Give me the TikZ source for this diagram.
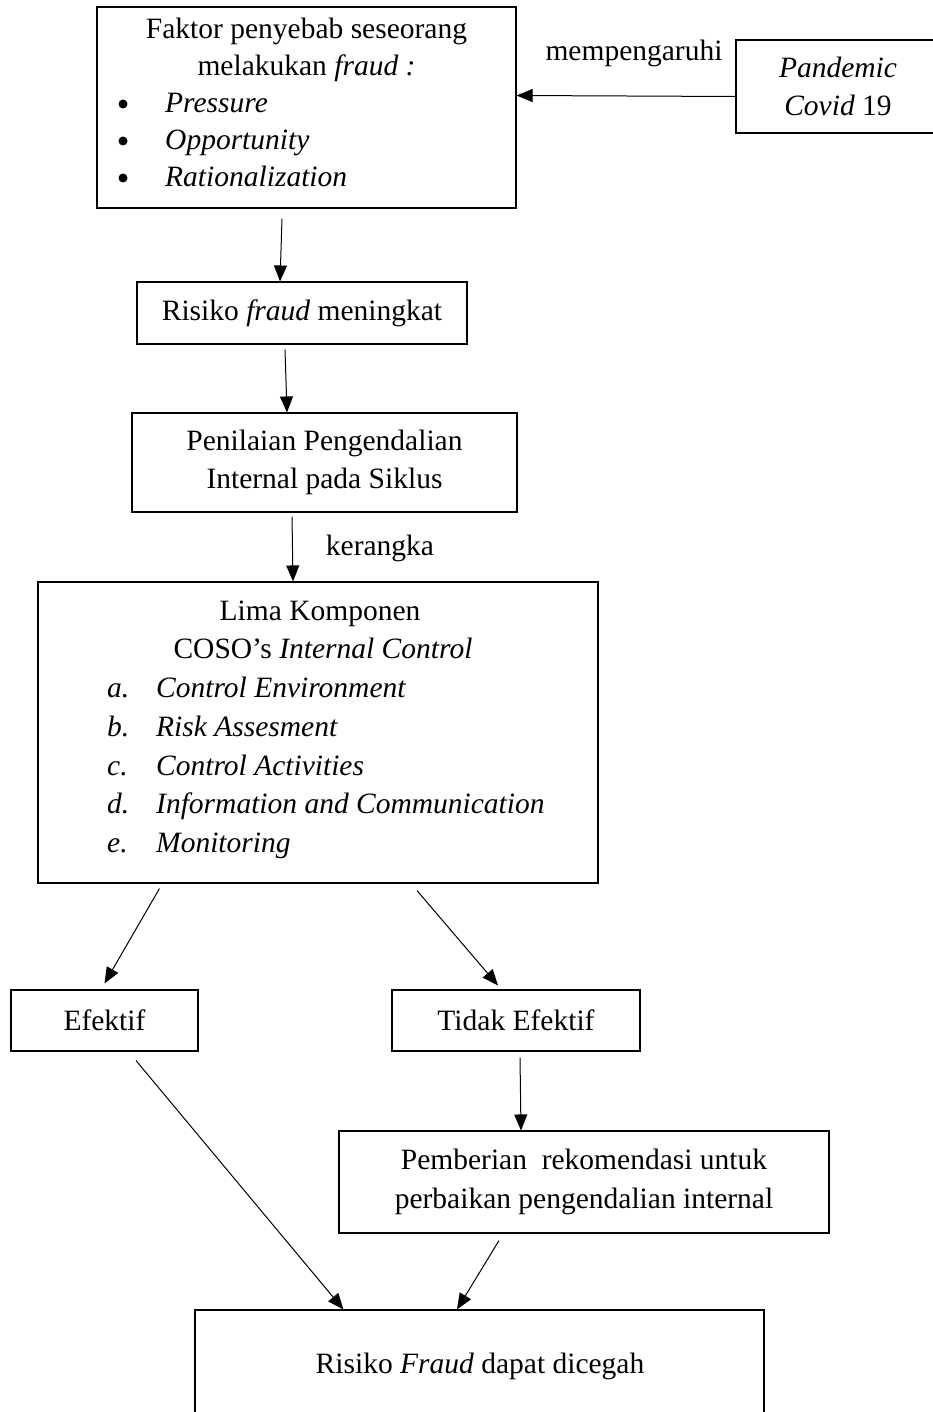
\documentclass[tikz,border=0pt]{standalone}
\usepackage{fontspec}
\setmainfont{Liberation Serif}
\usetikzlibrary{arrows.meta,positioning,calc}

\begin{document}
\begin{tikzpicture}[x=1pt,y=-1pt,>={Triangle[length=16pt,width=13pt]},
  every node/.style={font=\fontsize{29.5}{38.5}\selectfont,inner sep=0pt},
  box/.style={draw,line width=1.1pt,align=center},
  txt/.style={anchor=base},
  item/.style={anchor=base west},
  dot/.style={circle,fill,minimum size=9pt},
  arr/.style={->,line width=1pt}]
\useasboundingbox (0,0) rectangle (933,1412);
\clip (0,0) rectangle (933,1412);
% kotak-kotak
\node[box,minimum width=419pt,minimum height=201pt] (faktor) at (306.5,107.5) {};
\node[box,minimum width=240pt,minimum height=93pt] (pandemi) at (856,86.5) {};
\node[align=center] (covid) at (838,86.5) {\textit{Pandemic}\\\textit{Covid} 19};
\node[box,minimum width=330pt,minimum height=62pt] (risiko) at (302,313) {Risiko \textit{fraud} meningkat};
\node[box,minimum width=385pt,minimum height=99pt] (penilaian) at (324.5,462.5) {Penilaian Pengendalian\\Internal pada Siklus};
\node[box,minimum width=560pt,minimum height=301pt] (coso) at (318,732.5) {};
\node[box,minimum width=187pt,minimum height=61pt] (efektif) at (104.5,1020.5) {Efektif};
\node[box,minimum width=248pt,minimum height=61pt] (tidak) at (516,1020.5) {Tidak Efektif};
\node[box,minimum width=490pt,minimum height=102pt] (saran) at (584,1182) {Pemberian\ \ rekomendasi untuk\\perbaikan pengendalian internal};
\node[box,minimum width=569pt,minimum height=140pt] (cegah) at (479.5,1380) {};
% isi kotak faktor
\node[txt] (f1) at (306.5,39) {Faktor penyebab seseorang};
\node[txt] (f2) at (306.5,76) {melakukan \textit{fraud :}};
\foreach \y/\t [count=\i] in {113/Pressure,150/Opportunity,187/Rationalization}{
  \node[dot] (b\i) at (123,\y-9) {};
  \node[item] (p\i) at (165,\y) {\textit{\t}};
}
% isi kotak COSO
\node[txt] (c1) at (320,620) {Lima Komponen};
\node[txt] (c2) at (323,658) {COSO's \textit{Internal Control}};
\foreach \y/\l/\t [count=\i] in {697/a./Control Environment,736/b./Risk Assesment,775/c./Control Activities,813/d./Information and Communication,852/e./Monitoring}{
  \node[item] (l\i) at (107,\y) {\textit{\l}};
  \node[item] (k\i) at (156,\y) {\textit{\t}};
}
\node[txt] (hasil) at (480,1373) {Risiko \textit{Fraud} dapat dicegah};
% label panah
\node (pengaruh) at (634,53) {mempengaruhi};
\node (kerangka) at (380,548) {kerangka};
% panah
\draw[arr] ([yshift=-10pt]pandemi.west) -- ([yshift=12pt]faktor.east);
\draw[arr] ([xshift=-24.5pt,yshift=-10pt]faktor.south) -- ([xshift=-22pt]risiko.north);
\draw[arr] ([xshift=-17pt,yshift=-5pt]risiko.south) -- ([xshift=-37.5pt]penilaian.north);
\draw[arr] ([xshift=-32.5pt,yshift=-4pt]penilaian.south) -- ([xshift=-25pt]coso.north);
\draw[arr] ([xshift=122pt,yshift=-5pt]coso.south west) -- ([yshift=6pt]efektif.north);
\draw[arr] ([xshift=99pt,yshift=-7pt]coso.south) -- ([xshift=-18pt,yshift=4pt]tidak.north);
\draw[arr] ([xshift=31.5pt,yshift=-9pt]efektif.south) -- ([xshift=149pt]cegah.north west);
\draw[arr] ([xshift=4pt,yshift=-6pt]tidak.south) -- ([xshift=-63pt]saran.north);
\draw[arr] ([xshift=-85pt,yshift=-7pt]saran.south) -- ([xshift=-22.5pt]cegah.north);
\end{tikzpicture}
\end{document}
